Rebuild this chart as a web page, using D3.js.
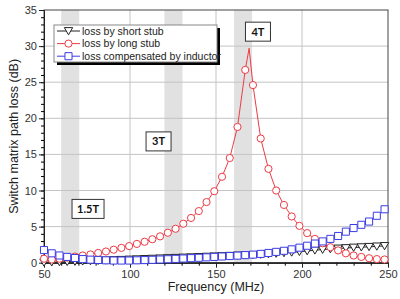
<!DOCTYPE html>
<html>
<head>
<meta charset="utf-8">
<script src="https://cdn.jsdelivr.net/npm/d3@7"></script>
<style>
  body { margin: 0; background: #fff; }
  svg { display: block; font-family: "Liberation Sans", Arial, sans-serif; }
</style>
</head>
<body>
<div id="chart-container"></div>
<script>
// frequencies where the markers sit (MHz)
const freqs = [50, 54.5, 59, 63.5, 68, 72.5, 77, 81.5, 86, 90.5, 95, 99.5, 104, 108.5, 113, 117.5, 122, 126.5, 131, 135.5,
    140, 144.5, 149, 153.5, 158, 162.5, 167, 171.5, 176, 180.5, 185, 189.5, 194, 198.5, 203, 207.5, 212, 216.5, 221, 225.5,
    230, 234.5, 239, 243.5, 248];

// loss values (dB), one per frequency
const shortStubLoss = [0.05, 0.07, 0.1, 0.13, 0.16, 0.2, 0.24, 0.28, 0.32, 0.36, 0.4, 0.44, 0.48, 0.52, 0.56, 0.6, 0.64, 0.68, 0.72, 0.76,
    0.8, 0.84, 0.88, 0.92, 0.96, 1.0, 1.04, 1.08, 1.13, 1.2, 1.27, 1.35, 1.43, 1.52, 1.62, 1.72, 1.82, 1.9, 1.97, 2.03,
    2.1, 2.15, 2.2, 2.26, 2.32];
const longStubLoss = [0.55, 0.45, 0.55, 0.7, 0.85, 1.0, 1.15, 1.35, 1.55, 1.8, 2.05, 2.3, 2.6, 2.9, 3.25, 3.65, 4.15, 4.7, 5.4, 6.2,
    7.15, 8.4, 9.9, 11.9, 14.5, 18.8, 26.7, 24.6, 17.2, 13.0, 10.0, 8.0, 6.4, 5.1, 4.1, 3.3, 2.7, 2.15, 1.7, 1.3,
    1.0, 0.8, 0.62, 0.5, 0.45];
const inductorLoss = [1.75, 1.3, 1.0, 0.8, 0.65, 0.5, 0.42, 0.38, 0.33, 0.3, 0.3, 0.3, 0.33, 0.36, 0.4, 0.44, 0.48, 0.53, 0.58, 0.63,
    0.68, 0.74, 0.8, 0.86, 0.92, 0.98, 1.05, 1.12, 1.22, 1.35, 1.5, 1.65, 1.85, 2.08, 2.35, 2.65, 2.95, 3.3, 3.7, 4.3,
    4.8, 5.25, 5.7, 6.5, 7.4];

// the long stub line has one extra point (no marker) at the resonance peak
const peakFreq = 169.25;
const peakLoss = 29.7;

// shaded frequency bands and their labels
const bands = [[60, 70.5], [120, 130.5], [160.5, 171]];
const bandLabels = ["1.5T", "3T", "4T"];
const bandLabelFreq = [75.6, 116.6, 174.4];
const bandLabelLoss = [7.45, 16.8, 32.0];

const xTicks = [50, 100, 150, 200, 250];
const yTicks = [0, 5, 10, 15, 20, 25, 30, 35];
const seriesNames = ["loss by short stub", "loss by long stub", "loss compensated by inductor"];

// set up sizes
const svgWidth = 400;
const svgHeight = 299;
const margin = { top: 10, right: 12, bottom: 36.3, left: 44 };
const width = svgWidth - margin.left - margin.right;
const height = svgHeight - margin.top - margin.bottom;

const svg = d3.select("#chart-container")
    .append("svg")
    .attr("width", svgWidth)
    .attr("height", svgHeight)
    .append("g")
    .attr("transform", `translate(${margin.left},${margin.top})`);

const x = d3.scaleLinear().domain([50, 250]).range([0, width]);
const y = d3.scaleLinear().domain([0, 35]).range([height, 0]);

const red = "#ee3b44";
const blue = "#3b3be6";
const black = "#222";

// gray bands behind everything
svg.selectAll(".band")
    .data(bands)
    .enter()
    .append("rect")
    .attr("x", d => x(d[0]))
    .attr("y", 0)
    .attr("width", d => x(d[1]) - x(d[0]))
    .attr("height", height)
    .attr("fill", "#e1e1e1");

// grid lines at the major ticks
svg.selectAll(".vgrid")
    .data(xTicks.slice(1, -1))
    .enter()
    .append("line")
    .attr("x1", d => x(d)).attr("x2", d => x(d))
    .attr("y1", 0).attr("y2", height)
    .attr("stroke", "#c4c4c4")
    .attr("stroke-width", 1);

svg.selectAll(".hgrid")
    .data(yTicks.slice(1, -1))
    .enter()
    .append("line")
    .attr("x1", 0).attr("x2", width)
    .attr("y1", d => y(d)).attr("y2", d => y(d))
    .attr("stroke", "#c4c4c4")
    .attr("stroke-width", 1);

// frame on top and right
svg.append("rect")
    .attr("width", width)
    .attr("height", height)
    .attr("fill", "none")
    .attr("stroke", "#444")
    .attr("stroke-width", 1);

// minor ticks first, then the major axis on top
svg.append("g")
    .attr("transform", `translate(0,${height})`)
    .call(d3.axisBottom(x).tickValues(d3.range(50, 251, 10)).tickSize(3).tickSizeOuter(0).tickFormat(""));
svg.append("g")
    .call(d3.axisLeft(y).tickValues(d3.range(0, 36, 1)).tickSize(3).tickSizeOuter(0).tickFormat(""));

svg.append("g")
    .attr("class", "axis axis-x")
    .attr("transform", `translate(0,${height})`)
    .call(d3.axisBottom(x).tickValues(xTicks).tickSize(5).tickSizeOuter(0).tickPadding(3));
svg.append("g")
    .attr("class", "axis axis-y")
    .call(d3.axisLeft(y).tickValues(yTicks).tickSize(5).tickSizeOuter(0).tickPadding(2));

svg.selectAll(".axis text").attr("font-size", "11px").attr("fill", "#333");
svg.selectAll(".axis path, .axis line").attr("stroke", "#222");

// lines
const line = d3.line().x(d => x(d[0])).y(d => y(d[1]));

const shortPts = d3.zip(freqs, shortStubLoss);
const longPts = d3.zip(freqs, longStubLoss);
const indPts = d3.zip(freqs, inductorLoss);
// put the peak point into the long stub line
const longLine = longPts.concat([[peakFreq, peakLoss]]).sort((a, b) => a[0] - b[0]);

const triPath = "M-4.2,-3.4L4.2,-3.4L0,3.8Z";
const sqPath = d3.symbol(d3.symbolSquare, 50)();

function drawSeries(pts, linePts, color, drawMarker) {
    svg.append("path")
        .datum(linePts)
        .attr("d", line)
        .attr("fill", "none")
        .attr("stroke", color)
        .attr("stroke-width", 1);
    const g = svg.append("g");
    pts.forEach(d => drawMarker(g, x(d[0]), y(d[1]), color));
}

function triMarker(g, cx, cy, color) {
    g.append("path").attr("d", triPath).attr("transform", `translate(${cx},${cy})`)
        .attr("fill", "#fff").attr("stroke", color).attr("stroke-width", 1);
}
function circleMarker(g, cx, cy, color) {
    g.append("circle").attr("cx", cx).attr("cy", cy).attr("r", 3.6)
        .attr("fill", "#fff").attr("stroke", color).attr("stroke-width", 1);
}
function squareMarker(g, cx, cy, color) {
    g.append("path").attr("d", sqPath).attr("transform", `translate(${cx},${cy})`)
        .attr("fill", "#fff").attr("stroke", color).attr("stroke-width", 1);
}

drawSeries(shortPts, shortPts, black, triMarker);
drawSeries(longPts, longLine, red, circleMarker);
drawSeries(indPts, indPts, blue, squareMarker);

// band labels in boxes; box width from the label length
const boxW = d => d.length * 3.5 + 18;

const labelGroups = svg.selectAll(".bandLabel")
    .data(bandLabels)
    .enter()
    .append("g")
    .attr("class", "bandLabel")
    .attr("transform", (d, i) => `translate(${x(bandLabelFreq[i])},${y(bandLabelLoss[i])})`);

labelGroups.append("rect")
    .attr("x", d => -boxW(d) / 2)
    .attr("y", -9.5)
    .attr("width", d => boxW(d))
    .attr("height", 19)
    .attr("fill", "#fff")
    .attr("stroke", "#333")
    .attr("stroke-width", 1);

labelGroups.append("text")
    .text(d => d)
    .attr("y", 4)
    .attr("text-anchor", "middle")
    .attr("font-family", "Lato, sans-serif")
    .attr("font-weight", "bold")
    .attr("font-size", "11px")
    .attr("fill", "#111");

// legend with black shadow
const legend = svg.append("g").attr("transform", "translate(10,15)");
legend.append("rect")
    .attr("x", 3).attr("y", 3)
    .attr("width", 163).attr("height", 37)
    .attr("fill", "#000");
legend.append("rect")
    .attr("width", 163).attr("height", 37)
    .attr("fill", "#fff")
    .attr("stroke", "#888")
    .attr("stroke-width", 1);

const legendColors = [black, red, blue];
const legendMarkers = [triMarker, circleMarker, squareMarker];
seriesNames.forEach((name, i) => {
    const ly = 6 + i * 12.6;
    legend.append("line")
        .attr("x1", 3).attr("x2", 26)
        .attr("y1", ly).attr("y2", ly)
        .attr("stroke", legendColors[i])
        .attr("stroke-width", 1);
    legendMarkers[i](legend, 14.5, ly, legendColors[i]);
    legend.append("text")
        .text(name)
        .attr("x", 28)
        .attr("y", ly + 3.8)
        .attr("font-size", "10.5px")
        .attr("fill", "#222");
});

// axis titles
svg.append("text")
    .text("Frequency (MHz)")
    .attr("x", width / 2)
    .attr("y", height + 28.5)
    .attr("text-anchor", "middle")
    .attr("font-size", "12.5px")
    .attr("fill", "#222");

svg.append("text")
    .text("Switch matrix path loss (dB)")
    .attr("transform", `translate(${18 - margin.left},${height / 2}) rotate(-90)`)
    .attr("text-anchor", "middle")
    .attr("font-size", "12.5px")
    .attr("fill", "#222");
</script>
</body>
</html>
